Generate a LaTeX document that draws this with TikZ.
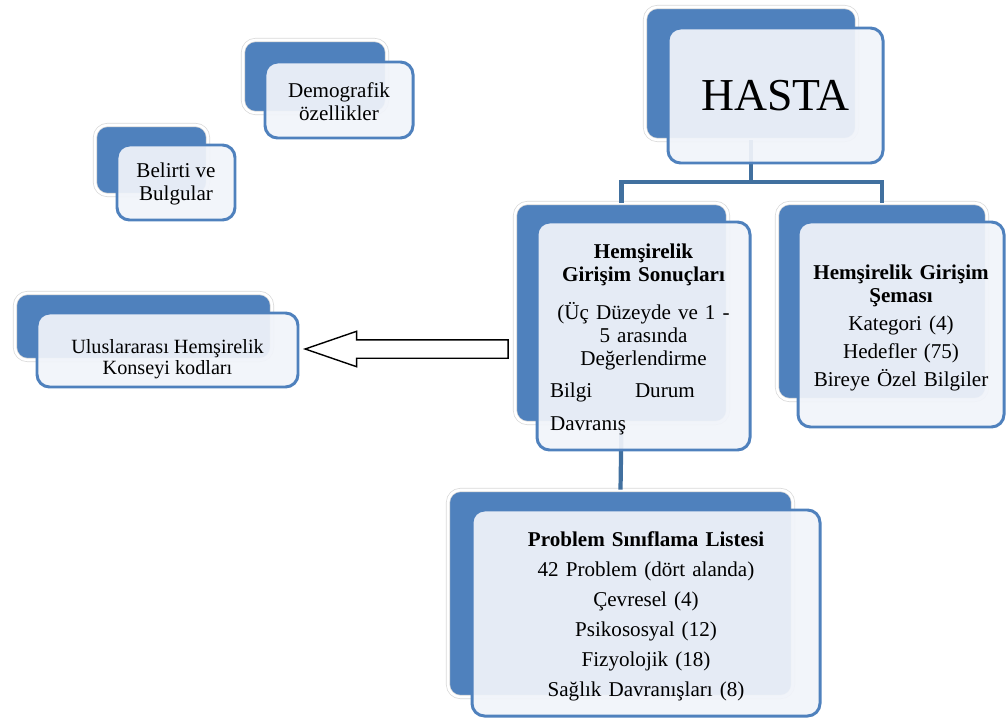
\documentclass[tikz,border=0pt]{standalone}
\usepackage{fontspec}
\setmainfont{Liberation Serif}
\usetikzlibrary{fit,shapes.arrows}
\definecolor{mavi}{HTML}{4F81BD}
\definecolor{koyumavi}{HTML}{41709F}
\definecolor{acik}{HTML}{F1F4FA}
\tikzset{
  arka/.style={fill=mavi, draw=black!15, double=white, double distance=1.5pt,
    line width=0.4pt, rounded corners=0.25cm, inner sep=0pt},
  on/.style={fill=acik, fill opacity=0.93, draw=mavi,
    line width=1.7pt, rounded corners=0.25cm, inner sep=0pt},
  baglanti/.style={draw=koyumavi, line width=2.4pt},
  okstil/.style={single arrow, shape border rotate=180, draw=black, fill=white,
    line width=0.8pt, inner xsep=0pt, inner ysep=0.17cm,
    single arrow head extend=0.17cm, single arrow tip angle=38,
    minimum height=4.06cm},
  yazi/.style={align=center, text=black, inner sep=0pt,
    font=\fontsize{12}{13}\selectfont}
}
\begin{document}
\begin{tikzpicture}[x=0.02cm, y=-0.02cm]
    \useasboundingbox (0,0) rectangle (1006,719);
    %%Arka kutular
    \node[arka, fit={(645,7) (857,140)}] (hastaA) {};
    \node[arka, fit={(515,203) (728,423)}] (sonucA) {};
    \node[arka, fit={(777,203) (987,400)}] (semaA) {};
    \node[arka, fit={(448,490) (793,697)}] (problemA) {};
    \node[arka, fit={(15,293) (272,360)}] (icnA) {};
    \node[arka, fit={(243,40) (387,113)}] (demoA) {};
    \node[arka, fit={(95,125) (208,195)}] (belirtiA) {};
    %%Bağlantılar
    \draw[baglanti] (hastaA.south) -- ++(0,42) -| (sonucA.north);
    \draw[baglanti] (hastaA.south) -- ++(0,42) -| (semaA.north);
    \draw[baglanti] (sonucA.south) -- (problemA.north);
    %%Ön kutular
    \node[on, fit={(668,28) (883,163)}] (hasta) {};
    \node[on, fit={(537,222) (750,450)}] (sonuc) {};
    \node[on, fit={(798,222) (1004,427)}] (sema) {};
    \node[on, fit={(472,510) (820,716)}] (problem) {};
    \node[on, fit={(37,313) (298,387)}] (icn) {};
    \node[on, fit={(265,62) (413,138)}] (demo) {};
    \node[on, fit={(117,145) (235,220)}] (belirti) {};
    %%Yazılar
    \node[yazi, font=\fontsize{26}{30}\selectfont] (hastaY) at (hasta.center) {HASTA};
    \node[yazi, text width=3.74cm, align=left] (sonucY) at ([yshift=-2pt]sonuc.center)
      {\centering\textbf{Hemşirelik\\Girişim Sonuçları}\par\vspace{9pt}
       (Üç Düzeyde ve 1 -\\5 arasında\\Değerlendirme\par\vspace{5pt}
       \raggedright\makebox[1.7cm][l]{Bilgi}Durum\par\vspace{6pt}Davranış\par};
    \node[yazi, text width=3.9cm] (semaY) at ([yshift=-2pt]sema.center)
      {\textbf{Hemşirelik Girişim\\Şeması}\\[3pt]
       Kategori (4)\\[3pt]Hedefler (75)\\[3pt]Bireye Özel Bilgiler};
    \node[yazi, text width=6cm] (problemY) at ([yshift=-2pt]problem.center)
      {\textbf{Problem Sınıflama Listesi}\\[4pt]
       42 Problem (dört alanda)\\[4pt]Çevresel (4)\\[4pt]Psikososyal (12)\\[4pt]
       Fizyolojik (18)\\[4pt]Sağlık Davranışları (8)};
    \node[yazi, font=\fontsize{11.5}{12}\selectfont] (icnY) at ([yshift=-5pt]icn.center)
      {Uluslararası Hemşirelik\\Konseyi kodları};
    \node[yazi] (demoY) at ([yshift=-1pt]demo.center)
      {Demografik\\özellikler};
    \node[yazi] (belirtiY) at ([yshift=-1pt]belirti.center)
      {Belirti ve\\Bulgular};
    %%Ok
    \node[okstil] (ok) at (420,349) {};
\end{tikzpicture}
\end{document}
